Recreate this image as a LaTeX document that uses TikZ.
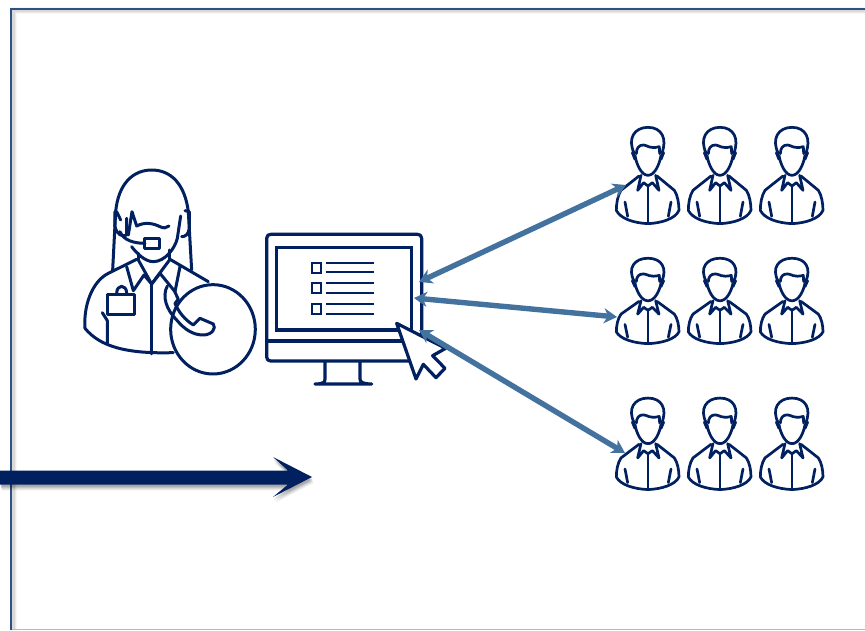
\documentclass[tikz,border=0pt]{standalone}
\usetikzlibrary{arrows.meta}
\definecolor{navy}{HTML}{002060}
\definecolor{steelb}{HTML}{44729E}
\definecolor{frameb}{HTML}{2F4F85}
\tikzset{
 icon/.style={draw=navy,line width=3pt,line cap=round,line join=round},
 thinicon/.style={draw=navy,line width=2.7pt,line cap=round,line join=round},
 link/.style={draw=steelb,line width=5.4pt,{Stealth[length=13pt,width=15pt,inset=4pt]}-{Stealth[length=13pt,width=15pt,inset=4pt]},shorten <=0pt,shorten >=0pt},
}
\newcommand{\personicon}[3]{%
\begin{scope}[shift={(#1,#2)},xscale=0.3333,yscale=#3*0.3333]
 \draw[thinicon] (72,95) .. controls (50,50) and (72,16) .. (113,16) .. controls (154,16) and (172,50) .. (154,95);
 \draw[thinicon] (78,95) .. controls (78,80) and (85,68) .. (100,69) .. controls (112,70) and (118,82) .. (147,74) -- (148,95);
 \draw[thinicon] (66,92) -- (74,112) (160,92) -- (152,112);
 \draw[thinicon] (74,100) .. controls (78,125) and (92,160) .. (113,160) .. controls (134,160) and (148,125) .. (152,100);
 \draw[thinicon] (86,162) -- (32,205) .. controls (22,220) and (18,245) .. (18,265) .. controls (30,290) and (70,303) .. (113,305) .. controls (155,303) and (195,290) .. (206,265) .. controls (206,245) and (202,220) .. (192,205) -- (140,162);
 \draw[thinicon] (92,160) -- (82,205) -- (100,182) -- (113,192) -- (126,182) -- (146,205) -- (136,160);
 \draw[thinicon] (113,192) -- (113,303);
 \draw[thinicon] (44,240) -- (52,283) (182,240) -- (174,283);
\end{scope}}
\begin{document}
\begin{tikzpicture}[x=1pt,y=-1pt]
\useasboundingbox (0,0) rectangle (865,630);
\fill[white] (0,0) rectangle (865,630);
% frame with soft shadow
\foreach \w/\o in {7/0.03,5/0.05,3.5/0.07}{
 \draw[black,opacity=\o,line width=\w pt] (865,10) -- (13,10) -- (13,630);
}
\draw[frameb,line width=2pt] (865,8.5) -- (11,8.5) -- (11,630);
\draw[frameb!40,line width=1pt] (12,629.5) -- (865,629.5);
% agent
\begin{scope}[shift={(70,160)},scale=0.3333]
 \draw[icon] (128,330) -- (137,155) .. controls (145,70) and (190,30) .. (245,30) .. controls (305,30) and (345,75) .. (355,155) -- (365,330);
 \draw[icon] (135,155) -- (135,200) .. controls (140,225) and (160,232) .. (170,225) -- (170,175) (152,180) -- (140,155);
 \draw[icon] (345,152) -- (358,155) -- (358,205) .. controls (355,225) and (345,230) .. (335,230);
 \draw[icon] (175,225) -- (186,155) -- (200,198) .. controls (225,185) and (250,190) .. (270,200) .. controls (280,205) and (290,205) .. (297,198);
 \draw[icon] (332,168) -- (322,235) .. controls (315,265) and (285,305) .. (250,305) .. controls (225,305) and (200,280) .. (185,260);
 \draw[icon] (150,215) .. controls (160,240) and (190,250) .. (225,250);
 \draw[icon] (225,237) rectangle (270,267);
 \draw[icon] (205,280) -- (205,300) (300,270) -- (300,298);
 \draw[icon] (45,505) .. controls (40,440) and (65,365) .. (115,340) -- (200,298);
 \draw[icon] (300,298) -- (415,365);
 \draw[icon] (45,505) .. controls (90,560) and (170,582) .. (310,578);
 \draw[icon] (170,320) -- (190,392) -- (222,345) -- (245,372) -- (270,340) -- (315,395) -- (330,320);
 \draw[icon] (205,300) -- (245,372) -- (300,298);
 \draw[icon] (245,372) -- (245,582);
 \draw[icon] (112,403) rectangle (195,465);
 \draw[icon] (140,400) .. controls (140,372) and (170,372) .. (170,400);
 \draw[icon] (97,458) -- (112,482) -- (112,550);
 \draw[icon,fill=white] (429,508) ellipse [x radius=127, y radius=134];
 \draw[icon] (292,378) .. controls (275,410) and (290,450) .. (320,480) .. controls (345,510) and (370,525) .. (400,525) .. controls (425,525) and (440,505) .. (430,492) -- (390,475) -- (370,495) .. controls (345,480) and (325,455) .. (315,430) -- (325,418) -- (312,390);
\end{scope}
% monitor
\begin{scope}[shift={(260,225)},scale=0.3333]
 \draw[icon,line width=3.2pt] (20,40) .. controls (20,32) and (25,28) .. (32,28) -- (473,28) .. controls (480,28) and (485,32) .. (485,40) -- (485,396) .. controls (485,404) and (480,408) .. (473,408) -- (32,408) .. controls (25,408) and (20,404) .. (20,396) -- cycle;
 \draw[navy,line width=3.6pt,line join=miter] (50,67) rectangle (455,315);
 \draw[icon,line width=3.2pt] (20,348) -- (430,348);
 \draw[icon,line width=3.2pt] (195,410) -- (195,462) .. controls (195,472) and (190,477) .. (165,477) -- (335,477) .. controls (310,477) and (300,472) .. (300,462) -- (300,410);
 \foreach \y in {113,175,237}{
  \draw[navy,line width=1.9pt] (157,\y) rectangle ++(25,30);
  \draw[navy,line width=1.7pt] (197,\y) -- ++(146,0) (197,\y+29) -- ++(146,0);
 }
 \draw[icon,line width=3.2pt,fill=white] (410,295) -- (468,462) -- (490,418) -- (528,458) -- (555,430) -- (518,392) -- (557,370) -- cycle;
\end{scope}
% people
\foreach \cx in {648,720,792}{
 \personicon{\cx-113/3}{122}{1}
 \personicon{\cx-113/3}{253.5}{0.887}
 \personicon{\cx-113/3}{393}{0.95}
}
\coordinate (m1) at (419,282);
\coordinate (m2) at (414,298);
\coordinate (m3) at (419,330);
\coordinate (g1) at (626,185);
\coordinate (g2) at (617,317);
\coordinate (g3) at (625,453);
\draw[link] (m1) -- (g1);
\draw[link] (m2) -- (g2);
\draw[link] (m3) -- (g3);
% big arrow with soft shadow
\foreach \d/\o in {6/0.05,5/0.06,4/0.08,3/0.10,2/0.10}{
 \fill[black,opacity=\o,shift={(\d*0.3,\d)}] (0,470.5) -- (288,470.5) -- (273,457) -- (312,477) -- (273,497) -- (288,484.5) -- (0,484.5) -- cycle;
}
\coordinate (bigE) at (312,477);
\fill[navy] (0,470.5) -- (288,470.5) -- (273,457) -- (bigE) -- (273,497) -- (288,484.5) -- (0,484.5) -- cycle;
\end{tikzpicture}
\end{document}
